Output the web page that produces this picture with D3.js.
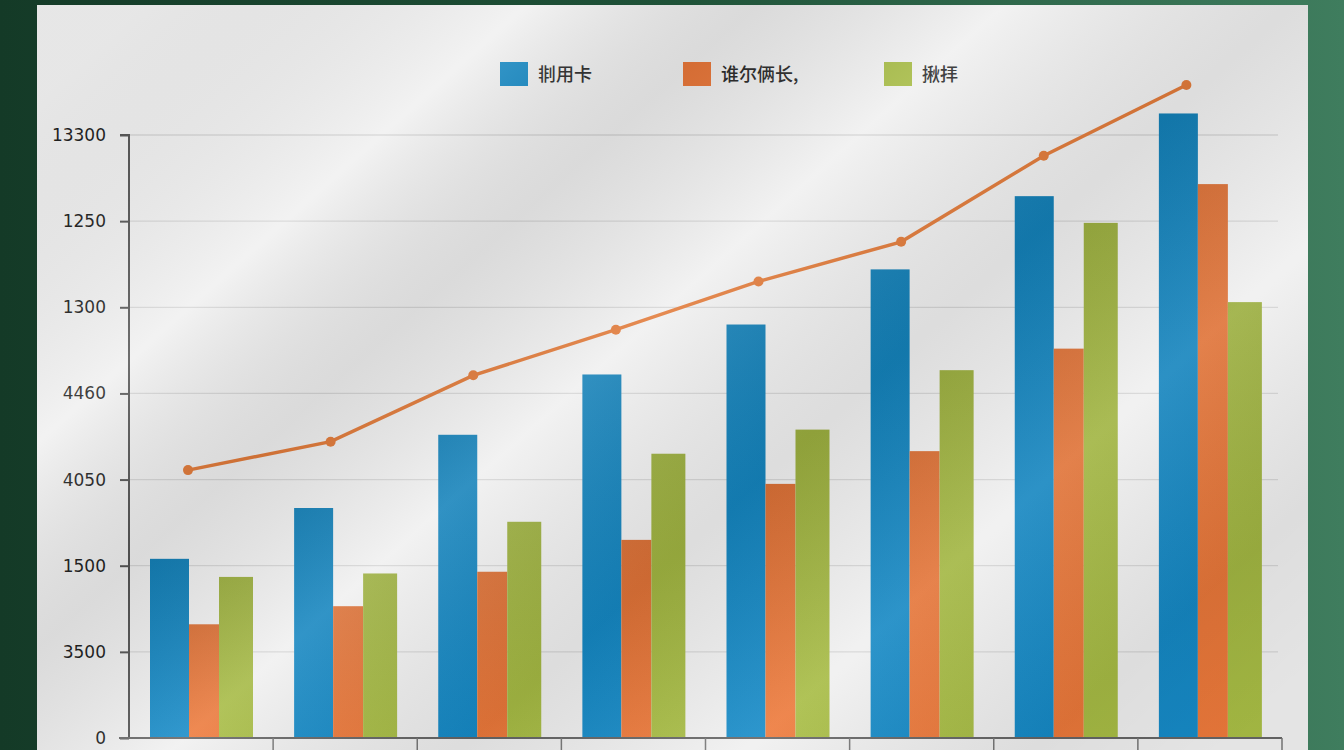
<!DOCTYPE html>
<html><head><meta charset="utf-8">
<script src="https://cdn.jsdelivr.net/npm/d3@7"></script>
<style>
html,body{margin:0;padding:0;background:#1d4f36;overflow:hidden;}
svg{display:block;}
</style></head>
<body>
<svg id="chart" width="1344" height="750"></svg>
<script>
const categories = ["1","2","3","4","5","6","7","8"];
const seriesNames = ["剕用卡", "谁尔俩长,", "揪拝"];
const blueValues   = [2.08, 2.67, 3.52, 4.22, 4.80, 5.44, 6.29, 7.25];
const orangeValues = [1.32, 1.53, 1.93, 2.30, 2.95, 3.33, 4.52, 6.43];
const greenValues  = [1.87, 1.91, 2.51, 3.30, 3.58, 4.27, 5.98, 5.06];
const lineValues   = [3.11, 3.44, 4.21, 4.74, 5.30, 5.76, 6.76, 7.58];
const tickValues = [0, 1, 2, 3, 4, 5, 6, 7];
const tickLabels = ["0", "3500", "1500", "4050", "4460", "1300", "1250", "13300"];
const colors = ["#1689c4", "#ea783a", "#a6bb44"];

const svg = d3.select("#chart");
const defs = svg.append("defs");

// background green
const bg = defs.append("linearGradient").attr("id","bgGreen").attr("x1",0).attr("y1",0).attr("x2",1).attr("y2",0);
bg.append("stop").attr("offset","0").attr("stop-color","#143a27");
bg.append("stop").attr("offset","0.5").attr("stop-color","#1f5238");
bg.append("stop").attr("offset","1").attr("stop-color","#3f7d5e");
svg.append("rect").attr("width",1344).attr("height",750).attr("fill","url(#bgGreen)");

// paper panel
svg.append("rect").attr("x",37).attr("y",5).attr("width",1271).attr("height",760).attr("fill","#f0f0f0");

const margin = {left:129, right:1282, top:135, bottom:738};
const x0 = d3.scaleBand().domain(categories).range([margin.left, margin.right]);
const y = d3.scaleLinear().domain([0,7]).range([margin.bottom, margin.top]);
const groupOffset = 21;
const barWidths = [39, 30, 34];
const barOffsets = [0, 39, 69];

// gridlines
svg.append("g").selectAll("line").data(tickValues.slice(1)).join("line")
  .attr("x1", margin.left).attr("x2", 1278)
  .attr("y1", d=>y(d)).attr("y2", d=>y(d))
  .attr("stroke","#d6d6d6").attr("stroke-width",1.3);

// bars
const seriesData = [blueValues, orangeValues, greenValues];
seriesData.forEach((vals, si) => {
  const g = defs.append("linearGradient").attr("id","bar"+si).attr("x1",0).attr("y1",0).attr("x2",0).attr("y2",1);
  const c = d3.color(colors[si]);
  g.append("stop").attr("offset","0").attr("stop-color", c.darker(0.2));
  g.append("stop").attr("offset","1").attr("stop-color", c.brighter(0.05));
  svg.append("g").selectAll("rect").data(vals).join("rect")
    .attr("x", (d,i)=> x0(categories[i]) + groupOffset + barOffsets[si])
    .attr("width", barWidths[si])
    .attr("y", d=>y(d))
    .attr("height", d=> y(0)-y(d))
    .attr("fill", "url(#bar"+si+")");
});

// y axis
const yAxis = d3.axisLeft(y).tickValues(tickValues).tickSize(9).tickPadding(14)
  .tickFormat((d,i)=>tickLabels[i]);
const ya = svg.append("g").attr("transform",`translate(${margin.left},0)`).call(yAxis);
ya.select(".domain").attr("stroke","#555").attr("stroke-width",2).attr("d",`M-9,${margin.top}H0V${margin.bottom}`);
ya.selectAll(".tick line").attr("stroke","#555").attr("stroke-width",2);
ya.selectAll(".tick text").attr("fill","#1e1e1e").style("font-family","'DejaVu Sans', sans-serif").style("font-size","17px");

// x axis
const xa = svg.append("g").attr("transform",`translate(0,${margin.bottom})`)
  .call(d3.axisBottom(x0).tickSize(0).tickFormat(""));
xa.select(".domain").attr("stroke","#666").attr("stroke-width",2).attr("d",`M${margin.left-10},0H${margin.right}`);
svg.append("g").selectAll("line").data(categories.slice(1).concat(["end"])).join("line")
  .attr("x1", d=> d==="end" ? margin.right : x0(d)).attr("x2", d=> d==="end" ? margin.right : x0(d))
  .attr("y1", margin.bottom).attr("y2", 750).attr("stroke","#777").attr("stroke-width",1.5);

// line
const lx = (d,i)=> x0(categories[i]) + groupOffset + 38 - i*1.5;
const line = d3.line().x(lx).y(d=>y(d));
svg.append("path").datum(lineValues).attr("d", line)
  .attr("fill","none").attr("stroke","#e27b3a").attr("stroke-width",3.5);
svg.append("g").selectAll("circle").data(lineValues).join("circle")
  .attr("cx", lx).attr("cy", d=>y(d)).attr("r",5).attr("fill","#e27b3a");

// legend
const legendX = [500, 683, 884];
const lg = svg.append("g").selectAll("g").data(seriesNames).join("g")
  .attr("transform",(d,i)=>`translate(${legendX[i]},62)`);
lg.append("rect").attr("width",28).attr("height",24).attr("fill",(d,i)=>colors[i]);
lg.append("text").attr("x",38).attr("y",19).text(d=>d)
  .attr("fill","#2a2a2a").style("font-family","'Noto Sans CJK SC', sans-serif").style("font-size","18px").style("font-weight","500");

// soft light / shadow streaks
const sh = defs.append("linearGradient").attr("id","shade").attr("gradientUnits","userSpaceOnUse")
  .attr("x1",150).attr("y1",0).attr("x2",1000).attr("y2",950);
[[0,"#000",0.04],[0.2,"#fff",0.15],[0.32,"#000",0.09],[0.45,"#fff",0.12],[0.6,"#000",0.08],[0.75,"#fff",0.1],[0.9,"#000",0.08],[1,"#000",0.05]]
  .forEach(s=>sh.append("stop").attr("offset",s[0]).attr("stop-color",s[1]).attr("stop-opacity",s[2]));
svg.append("rect").attr("x",37).attr("y",5).attr("width",1271).attr("height",760).attr("fill","url(#shade)").style("pointer-events","none");
</script>
</body></html>
